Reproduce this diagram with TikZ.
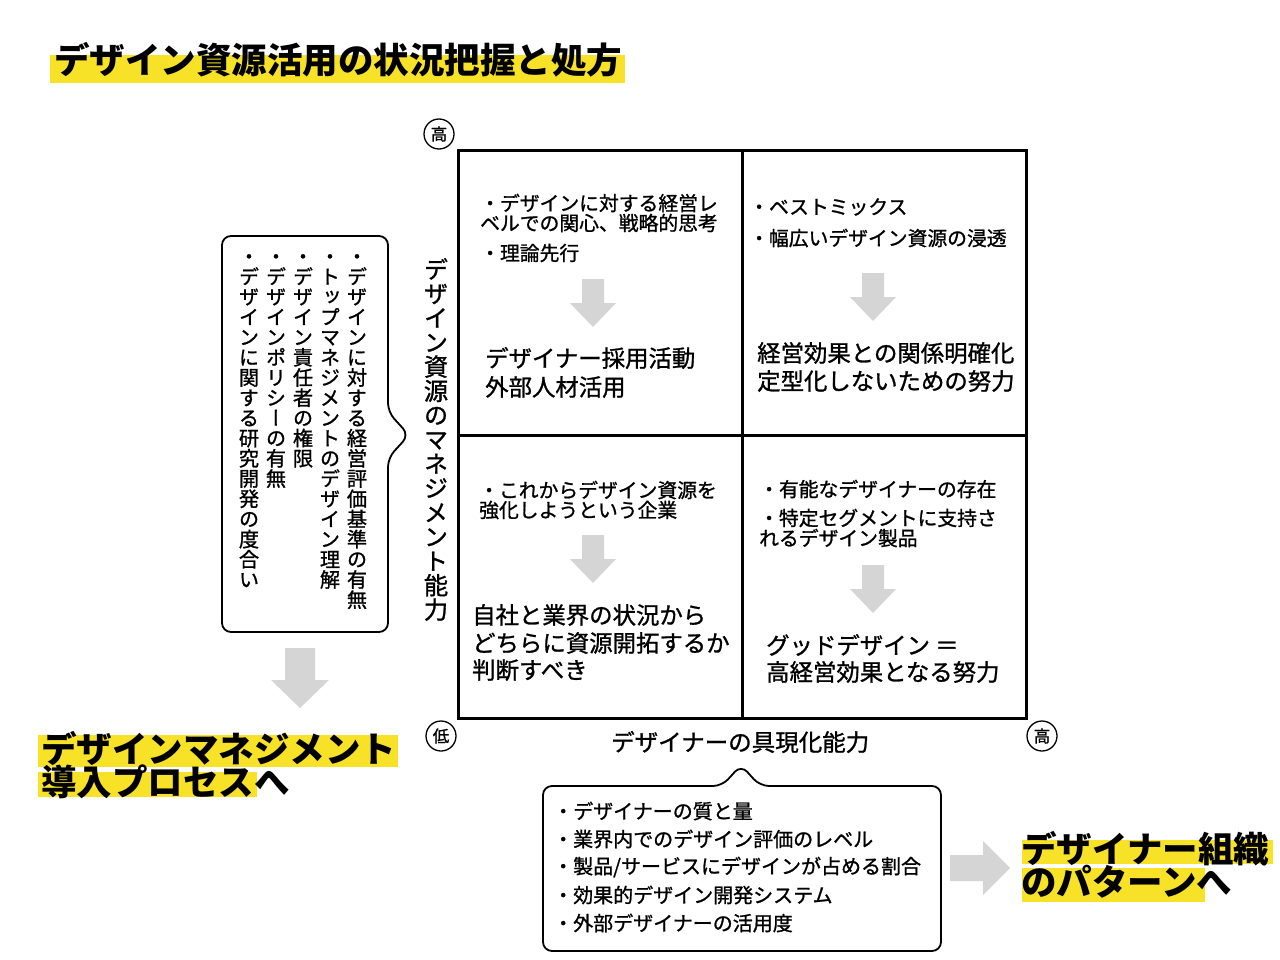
\documentclass[tikz,border=0pt]{standalone}
\usepackage{fontspec}
\setmainfont{Noto Sans CJK JP}
\newfontfamily\mfont[FakeBold=1.1]{Noto Sans CJK JP}
\newfontfamily\vjp[RawFeature=+vert,FakeBold=1.1]{Noto Sans CJK JP}
\makeatletter
\def\vt@loop#1{\ifx\relax#1\else\hbox to 1em{\hss\vrule height .88em depth .12em width 0pt\relax#1\hss}\expandafter\vt@loop\fi}
\newcommand\vtext[1]{\vbox{\offinterlineskip\vt@loop#1\relax}}
\makeatother
\definecolor{hl}{HTML}{F7E227}
\definecolor{agray}{HTML}{D5D5D5}
\tikzset{
  bul/.style={anchor=west,inner sep=0,font=\mfont\fontsize{19.8}{22}\selectfont},
  mainq/.style={anchor=west,inner sep=0,font=\mfont\fontsize{23.4}{28}\selectfont},
  bigl/.style={anchor=west,inner sep=0,font=\fontsize{35.5}{40}\selectfont\bfseries},
  circ/.style={circle,draw,line width=1.3pt,minimum size=30pt,inner sep=0,font=\mfont\fontsize{16.5}{17}\selectfont},
  vcol/.style={anchor=north,inner sep=0,font=\vjp\fontsize{20.2}{20}\selectfont},
  vaxis/.style={anchor=north,inner sep=0,font=\vjp\fontsize{24.3}{26}\selectfont},
  callout/.style={draw,line width=1.8pt,rounded corners=9pt},
  grid/.style={draw,line width=3pt},
  downarr/.pic={\fill[agray] (-11,0) -- (11,0) -- (11,24) -- (23,24) -- (0,48) -- (-23,24) -- (-11,24) -- cycle;}
}
\begin{document}
\begin{tikzpicture}[x=1pt,y=-1pt]
\useasboundingbox (0,0) rectangle (1280,960);
\fill[white] (0,0) rectangle (1280,960);
% highlights
\fill[hl] (50,55) rectangle (625,83);
\fill[hl] (38,735) rectangle (398,767);
\fill[hl] (38,772) rectangle (257,797);
\fill[hl] (1022,840) rectangle (1273,864);
\fill[hl] (1022,868) rectangle (1205,902);
% title
\node[bigl] (title) at (54,60) {デザイン資源活用の状況把握と処方};
% grid
\draw[grid] (458,151) rectangle (1026,718);
\draw[grid] (742,151) -- (742,718);
\draw[grid] (458,435) -- (1026,435);
% circles
\node[circ] (hiy) at (439,134) {高};
\node[circ] (loo) at (441,736) {低};
\node[circ] (hix) at (1042,736) {高};
% axis labels
\node[vaxis] (yaxis) at (436,257) {\vtext{デザイン資源のマネジメント能力}};
\node[anchor=west,inner sep=0,font=\mfont\fontsize{23.5}{28}\selectfont] (xaxis) at (611,742) {デザイナーの具現化能力};
% TL
\node[bul] (tl1) at (480,203) {・デザインに対する経営レ};
\node[bul] (tl2) at (480,223) {ベルでの関心、戦略的思考};
\node[bul] (tl3) at (480,253) {・理論先行};
\pic at (593,279) {downarr};
\node[mainq] (tlm1) at (485,358) {デザイナー採用活動};
\node[mainq] (tlm2) at (485,387) {外部人材活用};
% TR
\node[bul] (tr1) at (749,207) {・ベストミックス};
\node[bul] (tr2) at (749,238) {・幅広いデザイン資源の浸透};
\pic at (873,273) {downarr};
\node[mainq] (trm1) at (757,353) {経営効果との関係明確化};
\node[mainq] (trm2) at (757,381) {定型化しないための努力};
% BL
\node[bul] (bl1) at (479,490) {・これからデザイン資源を};
\node[bul] (bl2) at (479,510) {強化しようという企業};
\pic at (593,535) {downarr};
\node[mainq] (blm1) at (472,615) {自社と業界の状況から};
\node[mainq] (blm2) at (472,643) {どちらに資源開拓するか};
\node[mainq] (blm3) at (472,670) {判断すべき};
% BR
\node[bul] (br1) at (759,489) {・有能なデザイナーの存在};
\node[bul] (br2) at (759,518) {・特定セグメントに支持さ};
\node[bul] (br3) at (759,538) {れるデザイン製品};
\pic at (873,565) {downarr};
\node[mainq] (brm1) at (766,645) {グッドデザイン ＝};
\node[mainq] (brm2) at (766,672) {高経営効果となる努力};
% left callout
\draw[callout] (388,458) -- (388,632) -- (222,632) -- (222,236) -- (388,236) -- (388,412) -- (409,435) -- cycle;
\node[vcol] (lc1) at (357,246) {\vtext{・デザインに対する経営評価基準の有無}};
\node[vcol] (lc2) at (330,246) {\vtext{・トップマネジメントのデザイン理解}};
\node[vcol] (lc3) at (303,246) {\vtext{・デザイン責任者の権限}};
\node[vcol] (lc4) at (276,246) {\vtext{・デザインポリシーの有無}};
\node[vcol] (lc5) at (249,246) {\vtext{・デザインに関する研究開発の度合い}};
% left big arrow
\fill[agray] (285,648) -- (315,648) -- (315,680) -- (329,680) -- (300,708) -- (271,680) -- (285,680) -- cycle;
\node[bigl] (ll1) at (41,748) {デザインマネジメント};
\node[bigl] (ll2) at (41,782) {導入プロセスへ};
% bottom callout
\draw[callout] (760,786) -- (941,786) -- (941,951) -- (543,951) -- (543,786) -- (722,786) -- (741,765) -- cycle;
\node[bul,font=\mfont\fontsize{20}{22}\selectfont] (bc1) at (553,811) {・デザイナーの質と量};
\node[bul,font=\mfont\fontsize{20}{22}\selectfont] (bc2) at (553,839) {・業界内でのデザイン評価のレベル};
\node[bul,font=\mfont\fontsize{20}{22}\selectfont] (bc3) at (553,867) {・製品/サービスにデザインが占める割合};
\node[bul,font=\mfont\fontsize{20}{22}\selectfont] (bc4) at (553,895) {・効果的デザイン開発システム};
\node[bul,font=\mfont\fontsize{20}{22}\selectfont] (bc5) at (553,923) {・外部デザイナーの活用度};
% right arrow
\fill[agray] (950,855) -- (983,855) -- (983,841) -- (1010,868) -- (983,895) -- (983,881) -- (950,881) -- cycle;
\node[bigl] (rl1) at (1021,849) {デザイナー組織};
\node[bigl] (rl2) at (1021,882) {のパターンへ};
\end{tikzpicture}
\end{document}
